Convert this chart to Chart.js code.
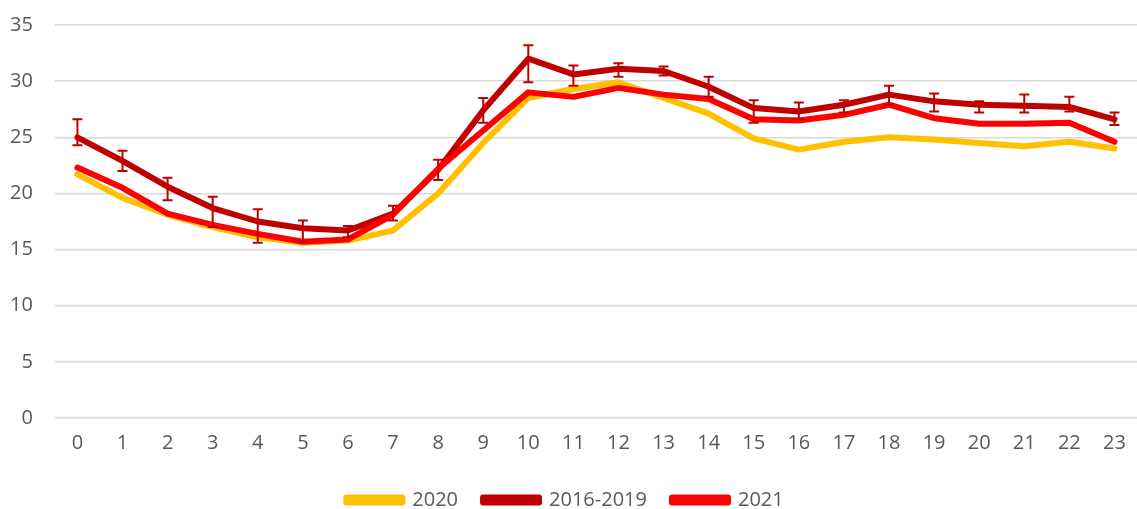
<!DOCTYPE html>
<html>
<head>
<meta charset="utf-8">
<script src="https://cdn.jsdelivr.net/npm/chart.js@4/dist/chart.umd.min.js"></script>
<style>
  html, body { margin: 0; padding: 0; background: #fff; }
  #wrap { width: 1137px; height: 509px; position: relative; }
</style>
</head>
<body>
<div id="wrap"><canvas id="hourChart"></canvas></div>
<script>
const hours = ['0','1','2','3','4','5','6','7','8','9','10','11','12','13','14','15','16','17','18','19','20','21','22','23'];
const y2020 = [21.7, 19.6, 18.1, 17.0, 16.1, 15.6, 15.8, 16.7, 20.0, 24.5, 28.5, 29.3, 29.9, 28.5, 27.1, 24.9, 23.9, 24.6, 25.0, 24.8, 24.5, 24.2, 24.6, 24.0];
const y2016_2019 = [25.0, 22.9, 20.6, 18.7, 17.5, 16.9, 16.7, 18.2, 22.1, 27.4, 32.0, 30.6, 31.1, 30.9, 29.5, 27.6, 27.3, 27.9, 28.8, 28.2, 27.9, 27.8, 27.7, 26.6];
const err2016_2019Hi = [26.6, 23.8, 21.4, 19.7, 18.6, 17.6, 17.1, 18.9, 23.0, 28.5, 33.2, 31.4, 31.6, 31.3, 30.4, 28.3, 28.1, 28.3, 29.6, 28.9, 28.2, 28.8, 28.6, 27.2];
const err2016_2019Lo = [24.3, 22.0, 19.4, 17.0, 15.6, 15.7, 16.1, 17.6, 21.2, 26.3, 29.9, 29.6, 30.4, 30.5, 28.6, 26.3, 26.6, 27.2, 27.9, 27.3, 27.2, 27.2, 27.3, 26.1];
const y2021 = [22.3, 20.5, 18.2, 17.2, 16.4, 15.7, 15.9, 18.1, 22.2, 25.6, 29.0, 28.6, 29.4, 28.8, 28.4, 26.6, 26.5, 27.0, 27.9, 26.7, 26.2, 26.2, 26.3, 24.6];

const cYellow = '#FFC000';
const cDark = '#C00000';
const cRed = '#FF0000';
const textColor = '#595959';

// error bars for the 2016-2019 series, drawn through the chart scales
const errorBars = {
    id: 'errorBars',
    afterDatasetsDraw(chart) {
        const { ctx, scales: { x, y } } = chart;
        ctx.save();
        ctx.strokeStyle = cDark;
        ctx.lineWidth = 2;
        err2016_2019Hi.forEach((hi, i) => {
            const px = x.getPixelForValue(i);
            const top = y.getPixelForValue(hi);
            const bot = y.getPixelForValue(err2016_2019Lo[i]);
            ctx.beginPath();
            ctx.moveTo(px, top); ctx.lineTo(px, bot);
            ctx.moveTo(px - 5, top); ctx.lineTo(px + 5, top);
            ctx.moveTo(px - 5, bot); ctx.lineTo(px + 5, bot);
            ctx.stroke();
        });
        ctx.restore();
    }
};

const line = (label, data, color, order) => ({
    label, data, order,
    borderColor: color, backgroundColor: color,
    borderWidth: 6, pointRadius: 0, tension: 0,
    borderCapStyle: 'round', borderJoinStyle: 'round'
});

const font = { family: 'Open Sans', size: 20 };

new Chart(document.getElementById('hourChart'), {
    type: 'line',
    data: {
        labels: hours,
        datasets: [
            line('2020', y2020, cYellow, 3),
            line('2016-2019', y2016_2019, cDark, 2),
            line('2021', y2021, cRed, 1)
        ]
    },
    options: {
        responsive: true, maintainAspectRatio: false, animation: false,
        layout: { padding: { left: -12, right: -5, top: 25, bottom: -11 } },
        plugins: {
            legend: {
                position: 'bottom',
                labels: {
                    color: textColor, boxWidth: 56, boxHeight: 5, padding: 25, font,
                    sort: (a, b) => a.datasetIndex - b.datasetIndex
                }
            },
            tooltip: { enabled: false }
        },
        scales: {
            y: {
                min: 0, max: 35,
                ticks: { stepSize: 5, color: textColor, padding: 22, font },
                grid: { color: '#D9D9D9', lineWidth: 1.5, drawTicks: false },
                border: { display: false },
                // tick padding is horizontal only here, do not let it push the plot top down
                afterFit(scale) { scale.paddingTop = 12; scale.paddingBottom = 12; }
            },
            x: {
                offset: true,
                ticks: { color: textColor, padding: 5, maxRotation: 0, font },
                grid: { display: false },
                border: { display: false },
                afterFit(scale) { scale.height += 5; }
            }
        }
    },
    plugins: [errorBars]
});
</script>
</body>
</html>
